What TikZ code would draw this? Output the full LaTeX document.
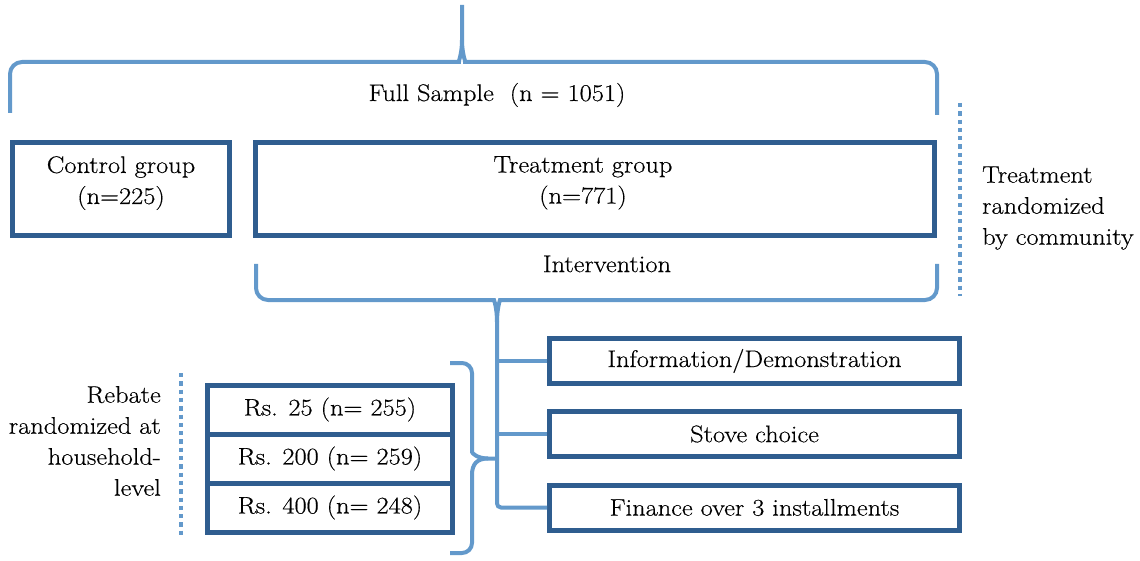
\documentclass[tikz,border=0pt]{standalone}
\usepackage{fontspec}
\setmainfont{Latin Modern Roman}[FakeStretch=1.1,FakeBold=0.4]
\usepackage{tikz}
\usetikzlibrary{positioning}
\definecolor{boxblue}{RGB}{47,93,143}
\definecolor{braceblue}{RGB}{99,153,203}

\begin{document}
\begin{tikzpicture}[
  x=1pt,y=-1pt,
  every node/.style={font=\fontsize{24}{31}\selectfont},
  grpbox/.style={draw=boxblue,line width=5pt,minimum height=93pt},
  armbox/.style={draw=boxblue,line width=5pt,minimum width=410pt,minimum height=45pt},
  rsbox/.style={draw=boxblue,line width=5pt,minimum width=245pt,minimum height=49pt},
  lbl/.style={align=center,inner sep=0pt},
  brace/.style={draw=braceblue,line width=4pt},
  dots/.style={draw=braceblue,line width=4.5pt,dash pattern=on 4.3pt off 4pt}
]
  \useasboundingbox (0,0) rectangle (1140,561);

  % top brace over the whole sample
  \draw[brace] (10,113) [rounded corners=12pt] |- (447,62) [sharp corners]
    .. controls (458,62) and (462,55) .. (462,40) -- (462,5);
  \draw[brace] (937,115) [rounded corners=12pt] |- (477,62) [sharp corners]
    .. controls (466,62) and (462,55) .. (462,40);
  \node (full) at (497,95) {Full Sample\ \ (n = 1051)};

  \node[grpbox,minimum width=217pt] (ctrl) at (121,189) {};
  \node[lbl,below=16pt of ctrl.north] (ctrllbl) {Control group\\(n=225)};
  \node[grpbox,minimum width=679pt] (treat) at (595,189) {};
  \node[lbl,below=16pt of treat.north,xshift=-12pt] (treatlbl) {Treatment group\\(n=771)};

  \draw[dots] (960,103) -- (960,296);
  \node[align=left,inner sep=0pt,anchor=west] (commrand) at (982,208)
    {Treatment\\randomized\\by community};

  % intervention brace and stem
  \node (interv) at (607,264) {Intervention};
  \coordinate (stem) at (497,322);
  \draw[brace] (256,264) [rounded corners=12pt] |- (482,300) [sharp corners]
    .. controls (494,300) and (497,308) .. (stem);
  \draw[brace] (937,264) [rounded corners=12pt] |- (512,300) [sharp corners]
    .. controls (500,300) and (497,308) .. (stem);

  \node[armbox] (info) at (754.5,361) {Information/Demonstration};
  \node[armbox] (stove) at (754.5,434) {Stove choice};
  \node[armbox] (fin) at (754.5,507.5) {Finance over 3 installments};
  \draw[brace,rounded corners=4pt] (stem) |- (fin.west);
  \draw[brace] (info.west -| stem) -- (info.west);
  \draw[brace] (stove.west -| stem) -- (stove.west);

  \node[rsbox] (rs25) at (330,409.5) {Rs. 25 (n= 255)};
  \node[rsbox] (rs200) at (330,458.5) {Rs. 200 (n= 259)};
  \node[rsbox] (rs400) at (330,507.5) {Rs. 400 (n= 248)};

  % brace joining the rebate arms to the stem
  \draw[brace] (450,363) [rounded corners=10pt] -| (472,442) [sharp corners]
    .. controls (472,453) and (477,458.5) .. (488,458.5) -- (rs200.east -| stem);
  \draw[brace] (488,458.5) .. controls (477,458.5) and (472,464) .. (472,475)
    [rounded corners=10pt] |- (450,553);

  \draw[dots] (181,373) -- (181,538);
  \node[align=right,inner sep=0pt,anchor=east] (rebate) at (161,441)
    {Rebate\\randomized at\\household-\\level};
\end{tikzpicture}
\end{document}
